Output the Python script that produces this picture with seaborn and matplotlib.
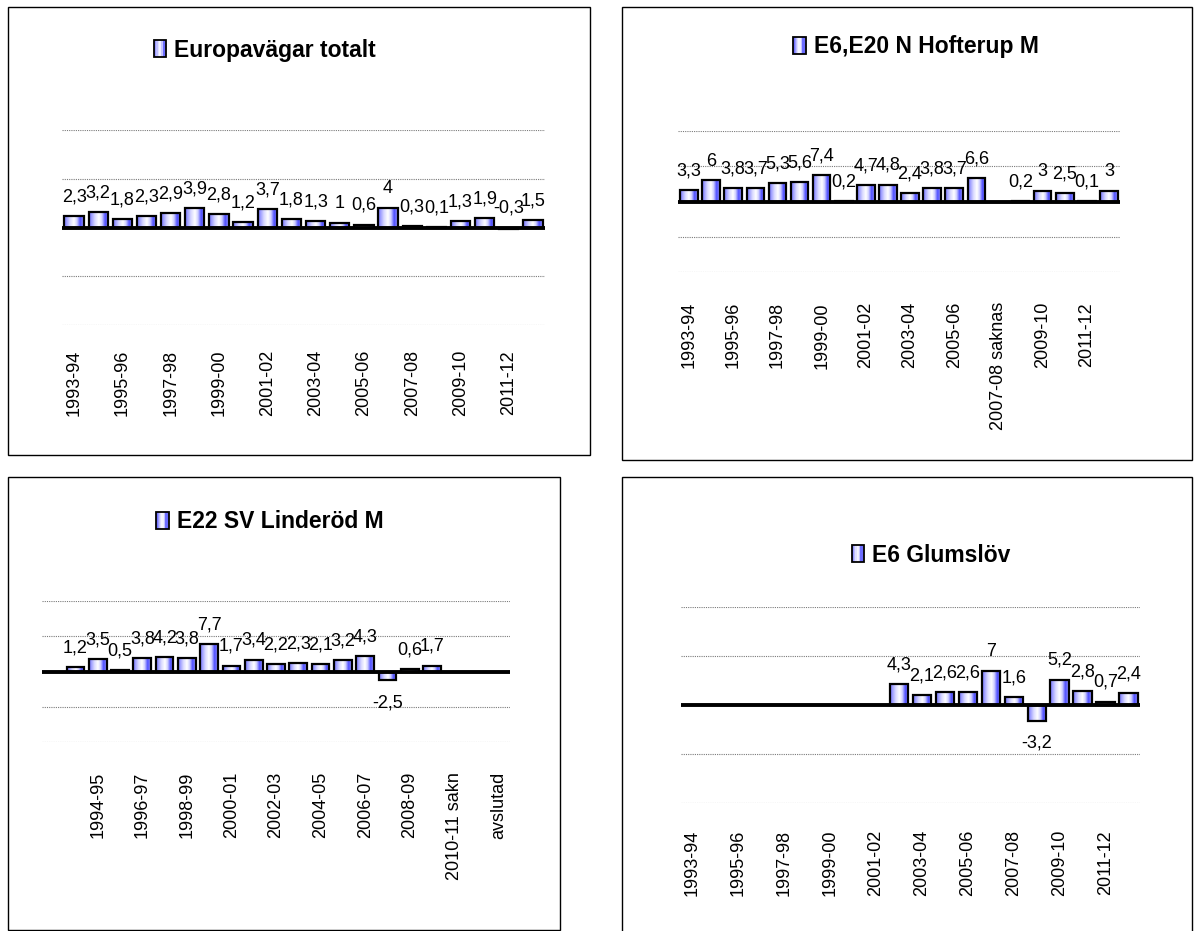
import numpy as np
import pandas as pd
import matplotlib
matplotlib.use("Agg")
import matplotlib.pyplot as plt
from matplotlib.patches import Rectangle
from matplotlib.legend_handler import HandlerBase
import seaborn as sns


# ==================================================
# DATA
# ==================================================
years = [
    "1993-94", "1994-95", "1995-96", "1996-97", "1997-98", "1998-99",
    "1999-00", "2000-01", "2001-02", "2002-03", "2003-04", "2004-05",
    "2005-06", "2006-07", "2007-08", "2008-09", "2009-10", "2010-11",
    "2011-12", "2012-13",
]
years_hofterup = [
    "1993-94", "1994-95", "1995-96", "1996-97", "1997-98", "1998-99",
    "1999-00", "2000-01", "2001-02", "2002-03", "2003-04", "2004-05",
    "2005-06", "2006-07", "2007-08 saknas", "2008-09", "2009-10", "2010-11",
    "2011-12", "2012-13",
]
years_linderod = [
    "", "1993-94", "1994-95", "1995-96", "1996-97", "1997-98", "1998-99",
    "1999-00", "2000-01", "2001-02", "2002-03", "2003-04", "2004-05",
    "2005-06", "2006-07", "2007-08", "2008-09", "2009-10", "2010-11 sakn",
    "2011-12", "avslutad",
]

europavagar = [2.3, 3.2, 1.8, 2.3, 2.9, 3.9, 2.8, 1.2, 3.7, 1.8,
               1.3, 1, 0.6, 4, 0.3, 0.1, 1.3, 1.9, -0.3, 1.5]
hofterup = [3.3, 6, 3.8, 3.7, 5.3, 5.6, 7.4, 0.2, 4.7, 4.8,
            2.4, 3.8, 3.7, 6.6, np.nan, 0.2, 3, 2.5, 0.1, 3]
linderod = [np.nan, 1.2, 3.5, 0.5, 3.8, 4.2, 3.8, 7.7, 1.7, 3.4, 2.2,
            2.3, 2.1, 3.2, 4.3, -2.5, 0.6, 1.7, np.nan, np.nan, np.nan]
glumslov = [np.nan, np.nan, np.nan, np.nan, np.nan, np.nan, np.nan, np.nan,
            np.nan, 4.3, 2.1, 2.6, 2.6, 7, 1.6, -3.2, 5.2, 2.8, 0.7, 2.4]


# ==================================================
# GLOBAL STYLE
# ==================================================
sns.set_style("white")
plt.rcParams["font.family"] = ["Liberation Sans", "DejaVu Sans"]
plt.rcParams["text.color"] = "black"
plt.rcParams["xtick.color"] = "black"
plt.rcParams["xtick.labelcolor"] = "black"

W, H = 1200, 931

# Excel-like horizontal gradient for the bars
GRAD_POS = [0.0, 0.3, 0.5, 0.65, 0.82, 1.0]
GRAD_RGB = [(0.45, 0.45, 1.0), (0.85, 0.85, 1.0), (1.0, 1.0, 1.0),
            (0.82, 0.82, 1.0), (0.3, 0.3, 1.0), (0.62, 0.62, 1.0)]


def gradient_strip(n=64):
    xs = np.linspace(0, 1, n)
    rgb = np.array(GRAD_RGB)
    cols = np.stack([np.interp(xs, GRAD_POS, rgb[:, k]) for k in range(3)], axis=-1)
    return cols[np.newaxis, :, :]


class GradientHandler(HandlerBase):
    def create_artists(self, legend, orig_handle, xdescent, ydescent,
                       width, height, fontsize, trans):
        grad = gradient_strip(10)[0]
        n = len(grad)
        arts = []
        for i, c in enumerate(grad):
            arts.append(Rectangle((-xdescent + width * i / n, -ydescent),
                                  width / n, height, facecolor=c,
                                  edgecolor="none", transform=trans))
        arts.append(Rectangle((-xdescent, -ydescent), width, height,
                              facecolor="none", edgecolor="black", lw=1.3,
                              transform=trans))
        return arts


def px_rect(x0, y0, x1, y1):
    return [x0 / W, 1 - y1 / H, (x1 - x0) / W, (y1 - y0) / H]


# ==================================================
# PANEL
# ==================================================
def draw_panel(fig, plot_px, box_px, cats, values, title, title_px, label_pad):
    bx = px_rect(*box_px)
    fig.add_artist(Rectangle((bx[0], bx[1]), bx[2], bx[3],
                             transform=fig.transFigure, fill=False,
                             edgecolor="black", lw=1))

    ax = fig.add_axes(px_rect(*plot_px))
    df = pd.DataFrame({"period": cats, "value": values}).dropna()

    sns.barplot(
        data=df, x="period", y="value", order=cats,
        color="white", saturation=1, width=0.8,
        edgecolor="black", linewidth=1.6, errorbar=None,
        ax=ax, zorder=2
    )

    grad = gradient_strip()
    bars = list(ax.patches)
    for bar in bars:
        x0 = bar.get_x()
        w = bar.get_width()
        h = bar.get_height()
        im = ax.imshow(grad, extent=[x0, x0 + w, min(0, h), max(0, h)],
                       aspect="auto", zorder=1.9, interpolation="bilinear")
        im.set_clip_path(bar)
        bar.set_facecolor("none")

        label = f"{h:g}".replace(".", ",")
        cx = x0 + w / 2
        if h < -1:
            ax.annotate(label, (cx, h), xytext=(0, -10), textcoords="offset points",
                        ha="center", va="top", fontsize=13)
        else:
            ax.annotate(label, (cx, max(h, 0)), xytext=(0, 10.5),
                        textcoords="offset points", ha="center",
                        va="baseline", fontsize=13)

    ax.axhline(0, color="black", lw=2.8, zorder=3)

    ax.set_xlim(-0.5, len(cats) - 0.5)
    ax.set_ylim(-20, 20)
    ax.set_yticks([-20, -10, 0, 10, 20])
    ax.set_yticklabels([])
    ax.set_xticks(range(0, len(cats), 2))
    ax.set_xticklabels(cats[::2], rotation=90, fontsize=13)
    ax.tick_params(length=0)
    ax.tick_params(axis="x", pad=label_pad)
    ax.grid(axis="y", color="#7a7a7a", ls=(0, (1, 1)), lw=0.8)
    ax.set_axisbelow(True)
    sns.despine(ax=ax, left=True, bottom=True)
    ax.set_xlabel("")
    ax.set_ylabel("")

    ax.legend(
        handles=[Rectangle((0, 0), 1, 1)], labels=[title],
        handler_map={Rectangle: GradientHandler()},
        loc="center",
        bbox_to_anchor=(title_px[0] / W, 1 - title_px[1] / H),
        bbox_transform=fig.transFigure,
        frameon=False,
        prop={"weight": "bold", "size": 16.5},
        handlelength=0.55, handleheight=0.75, handletextpad=0.35,
        borderpad=0
    )
    return ax


# ==================================================
# FIGURE
# ==================================================
fig = plt.figure(figsize=(12, 9.31), dpi=100)

draw_panel(fig, (62, 130, 545, 325), (8, 7, 590, 455),
           years, europavagar, "Europavägar totalt", (265, 50), 18)
draw_panel(fig, (678, 131, 1120, 272), (622, 7, 1192, 460),
           years_hofterup, hofterup, "E6,E20 N Hofterup M", (916, 47), 21.6)
draw_panel(fig, (42, 601, 510, 742), (8, 477, 560, 930),
           years_linderod, linderod, "E22 SV Linderöd M", (270, 522), 21.6)
draw_panel(fig, (681, 607, 1140, 803), (622, 477, 1192, 932),
           years, glumslov, "E6 Glumslöv", (931, 555), 19.4)

fig.savefig("out.png", dpi=100)
